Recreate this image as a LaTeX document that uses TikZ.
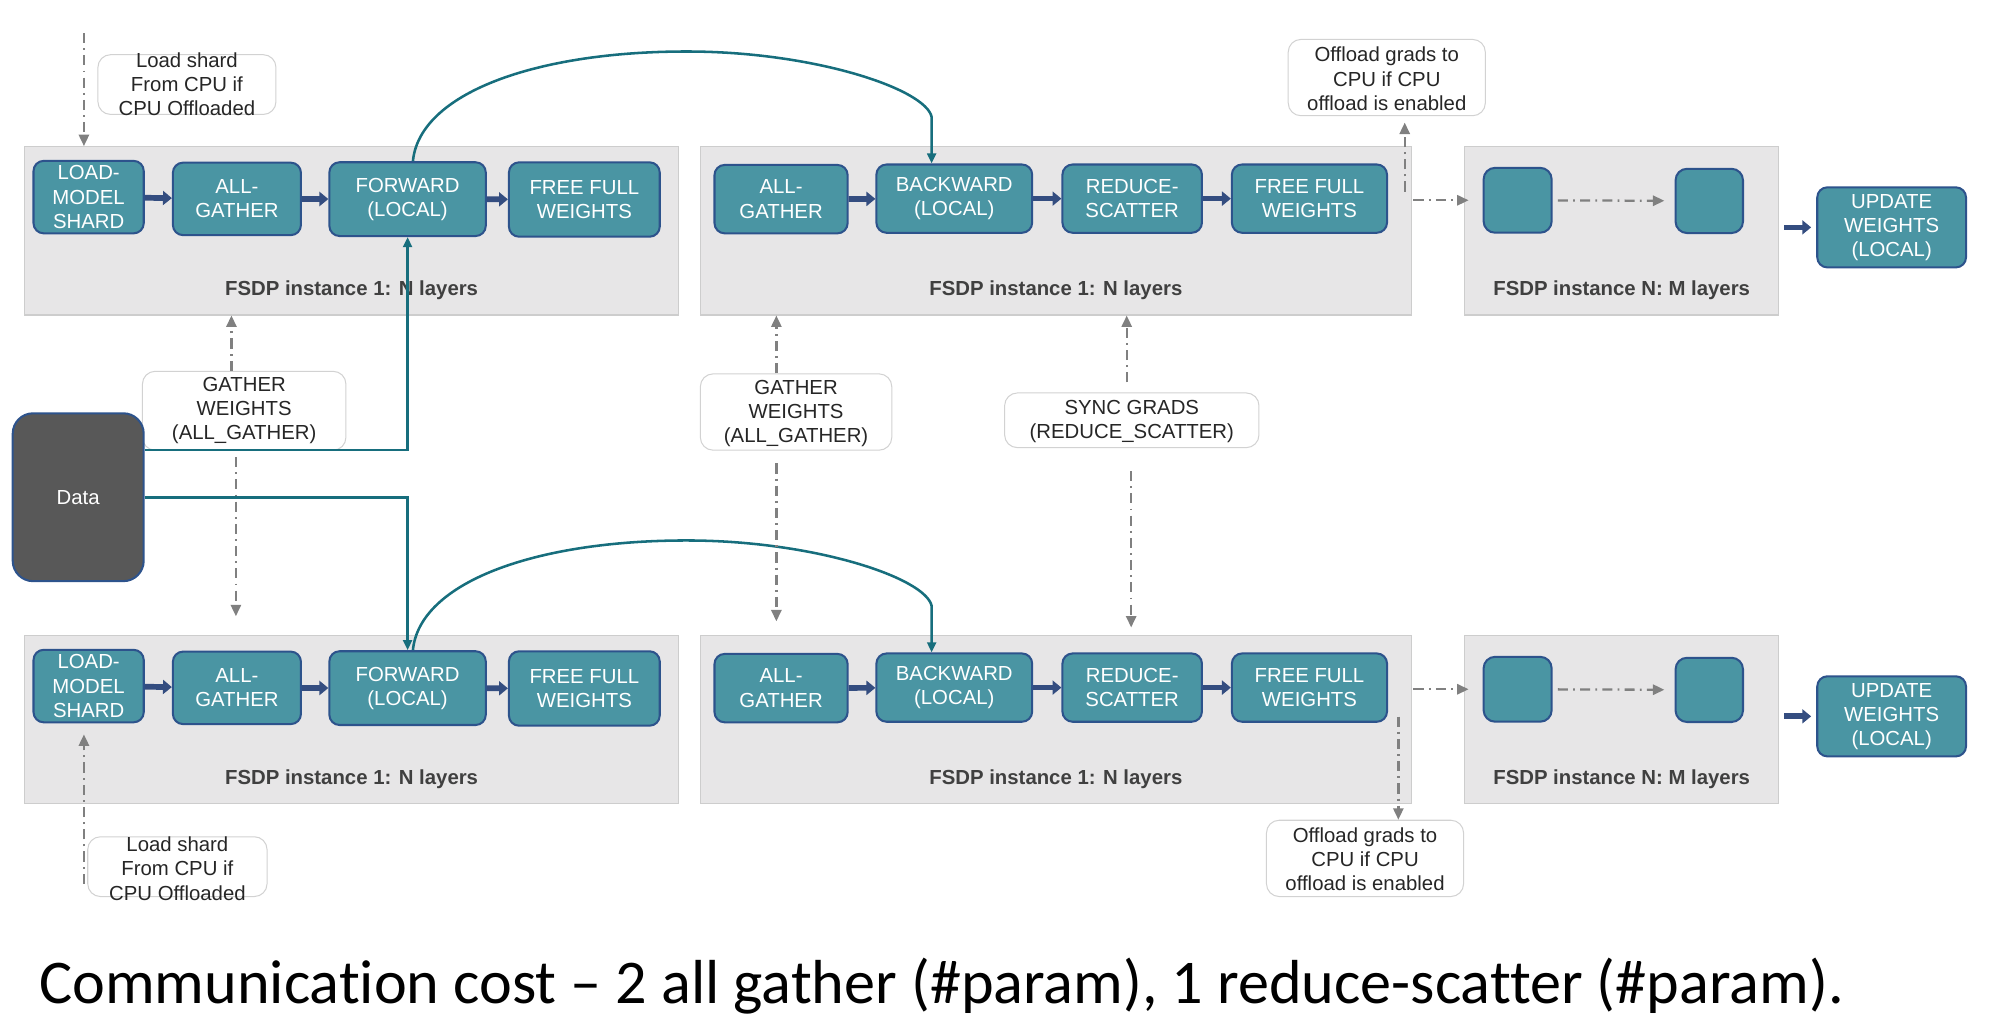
\documentclass[tikz,border=0pt]{standalone}
\usepackage{fontspec}
\setmainfont{Liberation Sans}
\newfontfamily\capfamily[Ligatures=NoCommon]{Carlito}
\usetikzlibrary{arrows.meta}
\definecolor{boxfill}{RGB}{74,149,163}
\definecolor{boxborder}{RGB}{45,83,140}
\definecolor{fatblue}{RGB}{52,77,128}
\definecolor{tealline}{RGB}{23,110,125}
\definecolor{panelfill}{RGB}{231,230,231}
\definecolor{panelborder}{RGB}{205,205,205}
\definecolor{arrowgray}{RGB}{128,128,128}
\definecolor{lblborder}{RGB}{210,210,210}
\definecolor{lbltextcol}{RGB}{38,38,38}
\definecolor{titlecol}{RGB}{64,64,64}
\definecolor{datafill}{RGB}{88,88,88}
\newcommand\boxfnt{\fontsize{16}{19}\selectfont}
\newcommand\titlefnt{\fontsize{16}{19}\selectfont\bfseries}
\newcommand\capfnt{\capfamily\fontsize{48.9}{58}\selectfont}
\tikzset{
  panel/.style={draw=panelborder, fill=panelfill, line width=0.8pt, inner sep=0pt},
  stepbox/.style={draw=boxborder, fill=boxfill, line width=1.6pt, rounded corners=8pt,
    text=white, font=\boxfnt, align=center, inner sep=0pt},
  lblbox/.style={draw=lblborder, fill=white, line width=0.8pt, rounded corners=10pt, inner sep=0pt},
  lbltext/.style={text=lbltextcol, font=\boxfnt, align=center, inner sep=0pt},
  paneltitle/.style={font=\titlefnt, text=titlecol, inner sep=0pt},
  datab/.style={draw=boxborder, fill=datafill, line width=1.6pt, rounded corners=16pt,
    text=white, font=\boxfnt, inner sep=0pt},
  grayarrow/.style={draw=arrowgray, line width=1.8pt,
    dash pattern=on 8pt off 4pt on 1.5pt off 4pt, -{Triangle[length=9pt,width=8pt]}},
  tealarrow/.style={draw=tealline, line width=2pt, -{Triangle[length=8pt,width=7pt]}},
  fatarrow/.style={draw=fatblue, line width=4.5pt, -{Triangle[length=7pt,width=11pt]}},
}
\begin{document}
\begin{tikzpicture}[x=1pt,y=1pt]
\useasboundingbox (0,0) rectangle (1568,-802);
\foreach \r/\dy in {1/0,2/384.5}{
\begin{scope}[yshift=-\dy pt]
  \node[panel, minimum width=514.3pt, minimum height=132.4pt] (pa\r) at (276.5,-181.5) {};
  \node[panel, minimum width=558.6pt, minimum height=132.4pt] (pb\r) at (830.3,-181.5) {};
  \node[panel, minimum width=246.9pt, minimum height=132.4pt] (pc\r) at (1275.2,-181.5) {};
  \node[paneltitle] (ta\r) at ([yshift=-46.5pt]pa\r.center) {FSDP instance 1: N layers};
  \node[paneltitle] (tb\r) at ([yshift=-46.5pt]pb\r.center) {FSDP instance 1: N layers};
  \node[paneltitle] (tc\r) at ([yshift=-46.5pt]pc\r.center) {FSDP instance N: M layers};
  \node[stepbox, minimum width=86.7pt, minimum height=57pt] (lm\r) at (69.7,-155) {LOAD-\\MODEL\\SHARD};
  \node[stepbox, minimum width=100.7pt, minimum height=57pt] (ag\r) at (186.3,-156.4) {ALL-\\GATHER};
  \node[stepbox, minimum width=123pt, minimum height=58pt] (fw\r) at (320.5,-156.6) {FORWARD\\(LOCAL)};
  \node[stepbox, minimum width=118.6pt, minimum height=58.5pt] (ff\r) at (459.5,-156.9) {FREE FULL\\WEIGHTS};
  \node[stepbox, minimum width=104.7pt, minimum height=53.8pt] (bag\r) at (614.2,-156.6) {ALL-\\GATHER};
  \node[stepbox, minimum width=122.5pt, minimum height=53.7pt] (bw\r) at (750.4,-156.2) {BACKWARD\\(LOCAL)};
  \node[stepbox, minimum width=109.7pt, minimum height=53.7pt] (rs\r) at (890.3,-156.2) {REDUCE-\\SCATTER};
  \node[stepbox, minimum width=122pt, minimum height=53.7pt] (bff\r) at (1029.7,-156.2) {FREE FULL\\WEIGHTS};
  \node[stepbox, minimum width=53.5pt, minimum height=51pt, rounded corners=9pt] (sa\r) at (1193.4,-157.5) {};
  \node[stepbox, minimum width=53pt, minimum height=50.5pt, rounded corners=9pt] (sb\r) at (1344.1,-158) {};
  \node[stepbox, minimum width=117pt, minimum height=63pt] (up\r) at (1487.5,-178.8) {UPDATE\\WEIGHTS\\(LOCAL)};
  \draw[fatarrow] (lm\r) -- (ag\r);
  \draw[fatarrow] (ag\r) -- (fw\r);
  \draw[fatarrow] (fw\r) -- (ff\r);
  \draw[fatarrow] (bag\r) -- (bw\r);
  \draw[fatarrow] (bw\r) -- (rs\r);
  \draw[fatarrow] (rs\r) -- (bff\r);
  \draw[fatarrow, shorten <=4pt, shorten >=4pt] (pc\r.east |- up\r) -- (up\r.west);
  \draw[grayarrow, shorten <=1.5pt, shorten >=11pt] (pb\r.east |- sa\r) -- (sa\r.west);
  \draw[grayarrow, shorten <=4pt, shorten >=8pt] (sa\r) -- (sb\r);
  \coordinate (bx\r) at (732.6,-92);
  \draw[tealarrow] ([xshift=4.2pt]fw\r.north) .. controls +(5,53) and (420,-40.5) .. (540,-40.5)
     .. controls (640,-40.5) and (728,-70) .. (bx\r) -- (bw\r.north -| bx\r);
\end{scope}
}
% labels
\node[lblbox, minimum width=140pt, minimum height=47pt] (lsA) at (147,-66.5) {};
\node[lbltext] (lsAt) at (lsA) {Load shard\\From CPU if\\CPU Offloaded};
\node[lblbox, minimum width=141pt, minimum height=47pt] (lsB) at (139.5,-681.5) {};
\node[lbltext] (lsBt) at (139.5,-683) {Load shard\\From CPU if\\CPU Offloaded};
\node[lblbox, minimum width=160pt, minimum height=62pt] (gwA) at (192,-323) {};
\node[lbltext] (gwAt) at (gwA) {GATHER\\WEIGHTS\\(ALL\_GATHER)};
\node[lblbox, minimum width=150.5pt, minimum height=60pt] (gwB) at (626,-324) {};
\node[lbltext] (gwBt) at (626,-325) {GATHER\\WEIGHTS\\(ALL\_GATHER)};
\node[lblbox, minimum width=200pt, minimum height=43pt] (sg) at (890,-330.5) {};
\node[lbltext] (sgt) at (890,-331.6) {SYNC GRADS\\(REDUCE\_SCATTER)};
\node[lblbox, minimum width=155pt, minimum height=60pt] (ogA) at (1090.5,-61) {};
\node[lbltext] (ogAt) at (1090.5,-62) {Offload grads to\\CPU if CPU\\offload is enabled};
\node[lblbox, minimum width=155pt, minimum height=60pt] (ogB) at (1073.4,-675) {};
\node[lbltext] (ogBt) at (1073.4,-675.8) {Offload grads to\\CPU if CPU\\offload is enabled};
% gray connectors
\coordinate (lsAend) at (66,-26);
\draw[grayarrow] (lsAend) -- (pa1.north -| lsAend);
\coordinate (lsBend) at (66,-695);
\draw[grayarrow, shorten >=8.7pt] (lsBend) -- (lm2.south -| lsBend);
\coordinate (gxA) at (182,0);
\draw[grayarrow] (gwA.north -| gxA) -- (pa1.south -| gxA);
\coordinate (gxB) at (185.5,0);
\draw[grayarrow, shorten <=5pt, shorten >=14.8pt] (gwA.south -| gxB) -- (pa2.north -| gxB);
\coordinate (gmx) at (610.5,0);
\draw[grayarrow] (gwB.north -| gmx) -- (pb1.south -| gmx);
\draw[grayarrow, shorten <=10pt, shorten >=10.8pt] (gwB.south -| gmx) -- (pb2.north -| gmx);
\coordinate (sgx1) at (886,0);
\draw[grayarrow, shorten <=8pt] (sg.north -| sgx1) -- (pb1.south -| sgx1);
\coordinate (sgx2) at (889.5,0);
\draw[grayarrow, shorten <=18pt, shorten >=6pt] (sg.south -| sgx2) -- (pb2.north -| sgx2);
\coordinate (ogAend) at (1104.6,-150.7);
\draw[grayarrow, shorten >=5pt] (ogAend) -- (ogA.south -| ogAend);
\coordinate (ogBend) at (1099.6,-563.5);
\draw[grayarrow] (ogBend) -- (ogB.north -| ogBend);
% data
\node[datab, minimum width=103pt, minimum height=132pt] (data) at (61.5,-391) {Data};
\draw[tealarrow] ([yshift=37pt]data.east) -| (fw1.south);
\draw[tealarrow] (data.east) -| (fw2.north);
% caption
\node[anchor=base west, font=\capfnt, inner sep=0pt] (cap) at (30.7,-789)
  {Communication cost – 2 all gather (\#param), 1 reduce-scatter (\#param).};
\end{tikzpicture}
\end{document}
